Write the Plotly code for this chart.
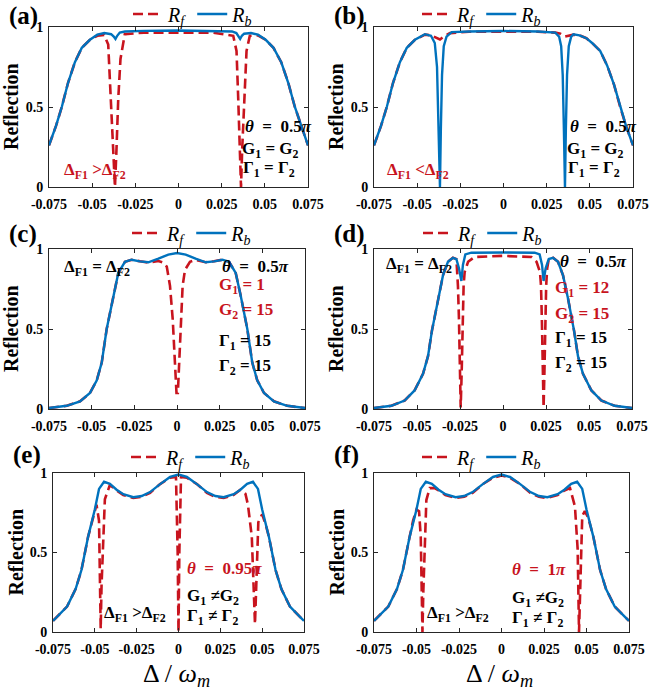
import plotly.graph_objects as go

RED = "#C8141E"
BLUE = "#0072BD"
FONT = "Liberation Serif, Times New Roman, serif"
W, H = 650, 692

x_ticks = [-0.075, -0.05, -0.025, 0, 0.025, 0.05, 0.075]
x_tick_text = ["-0.075", "-0.05", "-0.025", "0", "0.025", "0.05", "0.075"]
y_ticks = [0, 0.5, 1]
y_tick_text = ["0", "0.5", "1"]

# (a)
a_x_rf = [-0.075, -0.071, -0.0676, -0.064, -0.060, -0.056, -0.0513, -0.047, -0.043, -0.0407,
          -0.0397, -0.0378, -0.0368, -0.0359, -0.0349, -0.0336, -0.0311, -0.02, 0, 0.02,
          0.0317, 0.0336, 0.0346, 0.0356, 0.0362, 0.0369, 0.0381, 0.0394, 0.0413, 0.046,
          0.0505, 0.055, 0.0595, 0.0636, 0.0674, 0.071, 0.075]
a_rf = [0.26, 0.38, 0.50, 0.65, 0.78, 0.87, 0.92, 0.945, 0.95, 0.89,
        0.66, 0.24, 0.0, 0.24, 0.55, 0.80, 0.955, 0.965, 0.966, 0.965,
        0.945, 0.85, 0.55, 0.24, 0.0, 0.24, 0.55, 0.85, 0.945, 0.948,
        0.92, 0.87, 0.78, 0.65, 0.50, 0.38, 0.26]
a_x_rb = [-0.075, -0.071, -0.0676, -0.064, -0.060, -0.056, -0.0513, -0.047, -0.043, -0.039,
          -0.0375, -0.0365, -0.0355, -0.034, -0.031, -0.02, 0, 0.02, 0.031, 0.0335,
          0.0347, 0.0357, 0.0367, 0.038, 0.042, 0.046, 0.0505, 0.055, 0.0595, 0.0636,
          0.0674, 0.071, 0.075]
a_rb = [0.26, 0.38, 0.50, 0.65, 0.78, 0.87, 0.92, 0.952, 0.962, 0.955,
        0.94, 0.925, 0.945, 0.965, 0.972, 0.976, 0.978, 0.977, 0.972, 0.962,
        0.945, 0.925, 0.945, 0.958, 0.962, 0.952, 0.92, 0.87, 0.78, 0.65,
        0.50, 0.38, 0.26]

# (b)
b_x_rf = [-0.075, -0.071, -0.0676, -0.064, -0.060, -0.056, -0.0513, -0.0455, -0.042, -0.0395,
          -0.0368, -0.034, -0.031, -0.02, 0, 0.02, 0.030, 0.033, 0.0356, 0.038,
          0.0405, 0.044, 0.048, 0.0513, 0.056, 0.060, 0.064, 0.0676, 0.071, 0.075]
b_rf = [0.26, 0.38, 0.50, 0.65, 0.78, 0.87, 0.92, 0.952, 0.948, 0.935,
        0.922, 0.945, 0.962, 0.97, 0.972, 0.97, 0.965, 0.958, 0.94, 0.945,
        0.952, 0.948, 0.93, 0.90, 0.85, 0.76, 0.64, 0.50, 0.38, 0.26]
b_x_rb = [-0.075, -0.071, -0.0676, -0.064, -0.060, -0.056, -0.0513, -0.0455, -0.042, -0.0398,
          -0.0385, -0.0377, -0.0372, -0.0368, -0.0363, -0.0356, -0.0346, -0.033, -0.030, -0.02,
          0, 0.02, 0.030, 0.0322, 0.0334, 0.0343, 0.0350, 0.0356, 0.0361, 0.0368,
          0.0378, 0.0392, 0.0405, 0.044, 0.048, 0.0513, 0.056, 0.060, 0.064, 0.0676,
          0.071, 0.075]
b_rb = [0.26, 0.38, 0.50, 0.65, 0.78, 0.87, 0.92, 0.955, 0.945, 0.90,
        0.75, 0.45, 0.2, 0.0, 0.35, 0.70, 0.88, 0.94, 0.968, 0.972,
        0.975, 0.972, 0.965, 0.94, 0.88, 0.70, 0.35, 0.0, 0.35, 0.70,
        0.88, 0.94, 0.955, 0.948, 0.93, 0.90, 0.85, 0.76, 0.64, 0.50,
        0.38, 0.26]

# (c)
c_x_rf = [-0.075, -0.0646, -0.0568, -0.051, -0.047, -0.0441, -0.0412, -0.0373, -0.0344, -0.0305,
          -0.0266, -0.0217, -0.0168, -0.0109, -0.008, -0.006, -0.0041, -0.0025, -0.0014, -0.0003,
          0.0005, 0.0014, 0.0023, 0.0033, 0.0047, 0.0076, 0.0109, 0.0168, 0.0217, 0.0266,
          0.0305, 0.0344, 0.0373, 0.0412, 0.0441, 0.047, 0.051, 0.0568, 0.0646, 0.075]
c_rf = [0.006, 0.02, 0.048, 0.10, 0.18, 0.29, 0.50, 0.71, 0.85, 0.92,
        0.933, 0.923, 0.915, 0.925, 0.915, 0.89, 0.77, 0.56, 0.31, 0.10,
        0.10, 0.31, 0.56, 0.77, 0.87, 0.92, 0.932, 0.917, 0.923, 0.933,
        0.92, 0.85, 0.71, 0.50, 0.29, 0.18, 0.10, 0.048, 0.02, 0.006]
c_x_rb = [-0.075, -0.0646, -0.0568, -0.051, -0.047, -0.0441, -0.0412, -0.0373, -0.0344, -0.0305,
          -0.0266, -0.0217, -0.0168, -0.0109, -0.0051, 0, 0.0051, 0.0109, 0.0168, 0.0217,
          0.0266, 0.0305, 0.0344, 0.0373, 0.0412, 0.0441, 0.047, 0.051, 0.0568, 0.0646,
          0.075]
c_rb = [0.006, 0.02, 0.048, 0.10, 0.18, 0.29, 0.50, 0.71, 0.85, 0.92,
        0.933, 0.923, 0.917, 0.94, 0.965, 0.975, 0.965, 0.94, 0.917, 0.923,
        0.933, 0.92, 0.85, 0.71, 0.50, 0.29, 0.18, 0.10, 0.048, 0.02,
        0.006]

# (d)
d_x_rf = [-0.075, -0.0649, -0.0572, -0.0514, -0.0465, -0.0436, -0.0413, -0.0378, -0.0349, -0.032,
          -0.0291, -0.0271, -0.0262, -0.0256, -0.025, -0.0246, -0.024, -0.0234, -0.0229, -0.0223,
          -0.0203, -0.0165, 0, 0.0165, 0.0195, 0.0215, 0.0221, 0.0226, 0.0231, 0.0236,
          0.0241, 0.0246, 0.0251, 0.0257, 0.0266, 0.0291, 0.032, 0.0349, 0.0378, 0.0413,
          0.0436, 0.0465, 0.0514, 0.0572, 0.0649, 0.075]
d_rf = [0.006, 0.02, 0.053, 0.116, 0.22, 0.33, 0.49, 0.69, 0.835, 0.92,
        0.945, 0.937, 0.77, 0.56, 0.24, 0.01, 0.24, 0.56, 0.77, 0.856,
        0.92, 0.95, 0.957, 0.95, 0.92, 0.856, 0.77, 0.56, 0.24, 0.01,
        0.24, 0.56, 0.77, 0.88, 0.937, 0.945, 0.92, 0.835, 0.69, 0.49,
        0.33, 0.22, 0.116, 0.053, 0.02, 0.006]
d_x_rb = [-0.075, -0.0649, -0.0572, -0.0514, -0.0465, -0.0436, -0.0413, -0.0378, -0.0349, -0.032,
          -0.0291, -0.0271, -0.0256, -0.0242, -0.0233, -0.0219, -0.0184, 0, 0.0184, 0.0213,
          0.0227, 0.0236, 0.0248, 0.0266, 0.0291, 0.032, 0.0349, 0.0378, 0.0413, 0.0436,
          0.0465, 0.0514, 0.0572, 0.0649, 0.075]
d_rb = [0.006, 0.02, 0.053, 0.116, 0.22, 0.33, 0.49, 0.69, 0.835, 0.92,
        0.945, 0.937, 0.88, 0.80, 0.90, 0.966, 0.977, 0.978, 0.977, 0.966,
        0.90, 0.80, 0.88, 0.937, 0.945, 0.92, 0.835, 0.69, 0.49, 0.33,
        0.22, 0.116, 0.053, 0.02, 0.006]

# (e)
e_x_rf = [-0.075, -0.0726, -0.0666, -0.0615, -0.058, -0.054, -0.050, -0.049, -0.0475, -0.0468,
          -0.0465, -0.046, -0.045, -0.044, -0.041, -0.037, -0.033, -0.027, -0.022, -0.017,
          -0.011, -0.005, -0.0015, -0.0005, 0, 0.0005, 0.0015, 0.005, 0.011, 0.017,
          0.022, 0.027, 0.033, 0.037, 0.040, 0.0415, 0.0438, 0.0447, 0.0457, 0.0465,
          0.0472, 0.0477, 0.050, 0.052, 0.054, 0.058, 0.0615, 0.0666, 0.0726, 0.075]
e_rf = [0.07, 0.095, 0.16, 0.27, 0.39, 0.60, 0.77, 0.80, 0.70, 0.35,
        0.02, 0.29, 0.60, 0.835, 0.925, 0.89, 0.862, 0.843, 0.85, 0.875,
        0.93, 0.97, 0.975, 0.5, 0.0, 0.5, 0.975, 0.97, 0.93, 0.875,
        0.85, 0.843, 0.862, 0.895, 0.87, 0.80, 0.60, 0.35, 0.05, 0.30,
        0.60, 0.69, 0.74, 0.68, 0.60, 0.39, 0.27, 0.16, 0.095, 0.07]

# (f)
f_x_rf = [-0.075, -0.0726, -0.0666, -0.0615, -0.058, -0.054, -0.052, -0.050, -0.0485, -0.0475,
          -0.047, -0.0465, -0.046, -0.0452, -0.0442, -0.0422, -0.0393, -0.037, -0.033, -0.027,
          -0.022, -0.017, -0.011, -0.005, 0, 0.005, 0.011, 0.017, 0.022, 0.027,
          0.033, 0.037, 0.0403, 0.0432, 0.0448, 0.0456, 0.0461, 0.0467, 0.0475, 0.049,
          0.051, 0.054, 0.058, 0.0615, 0.0666, 0.0726, 0.075]
f_rf = [0.07, 0.095, 0.16, 0.27, 0.39, 0.60, 0.70, 0.77, 0.76, 0.60,
        0.30, 0.0, 0.25, 0.52, 0.83, 0.905, 0.905, 0.89, 0.862, 0.843,
        0.85, 0.875, 0.93, 0.97, 0.985, 0.97, 0.93, 0.875, 0.85, 0.843,
        0.862, 0.89, 0.905, 0.79, 0.52, 0.0, 0.2, 0.52, 0.73, 0.76,
        0.72, 0.60, 0.39, 0.27, 0.16, 0.095, 0.07]

# (e) and (f) share the same backward curve
ef_x_rb = [-0.075, -0.0726, -0.0666, -0.0615, -0.058, -0.054, -0.050, -0.0475, -0.0445, -0.041,
           -0.037, -0.033, -0.027, -0.022, -0.017, -0.011, -0.005, 0, 0.005, 0.011,
           0.017, 0.022, 0.027, 0.033, 0.037, 0.041, 0.0445, 0.0475, 0.050, 0.054,
           0.058, 0.0615, 0.0666, 0.0726, 0.075]
ef_rb = [0.07, 0.095, 0.16, 0.27, 0.39, 0.60, 0.77, 0.90, 0.945, 0.932,
         0.895, 0.867, 0.848, 0.855, 0.88, 0.93, 0.975, 0.99, 0.975, 0.93,
         0.88, 0.855, 0.848, 0.867, 0.895, 0.932, 0.945, 0.90, 0.77, 0.60,
         0.39, 0.27, 0.16, 0.095, 0.07]

SP = "\u2002"
theta05 = f"<i>θ</i>{SP}={SP}0.5<i>π</i>"
g_eq = "G<sub>1</sub> = G<sub>2</sub>"
gam_eq = "Γ<sub>1</sub> = Γ<sub>2</sub>"
d_eq = "Δ<sub>F1</sub> = Δ<sub>F2</sub>"
d_gt = "Δ<sub>F1</sub> >Δ<sub>F2</sub>"
d_lt = "Δ<sub>F1</sub> <Δ<sub>F2</sub>"
g_ne = "G<sub>1</sub> ≠G<sub>2</sub>"
gam_ne = "Γ<sub>1</sub> ≠ Γ<sub>2</sub>"

# panel pixel boxes: left, right, top, bottom; legend centre (x, y); tag centre y
panels = [
    dict(tag="(a)", box=(49, 308, 27, 187), leg=(193, 14), tag_y=16,
         rf=(a_x_rf, a_rf), rb=(a_x_rb, a_rb),
         notes=[(theta05, 0.0373, 0.38, "black"), (g_eq, 0.0356, 0.23, "black"),
                (gam_eq, 0.0362, 0.115, "black"), (d_gt, -0.0675, 0.10, RED)]),
    dict(tag="(b)", box=(374, 633, 27, 187), leg=(482, 14), tag_y=16,
         rf=(b_x_rf, b_rf), rb=(b_x_rb, b_rb),
         notes=[(theta05, 0.0373, 0.38, "black"), (g_eq, 0.0356, 0.23, "black"),
                (gam_eq, 0.0362, 0.115, "black"), (d_lt, -0.0686, 0.10, RED)]),
    dict(tag="(c)", box=(49, 305, 249, 409), leg=(192, 233), tag_y=234,
         rf=(c_x_rf, c_rf), rb=(c_x_rb, c_rb),
         notes=[(d_eq, -0.0676, 0.88, "black"), (theta05, 0.0252, 0.89, "black"),
                ("G<sub>1</sub> = 1", 0.0232, 0.77, RED), ("G<sub>2</sub> = 15", 0.0232, 0.61, RED),
                ("Γ<sub>1</sub> = 15", 0.0232, 0.42, "black"), ("Γ<sub>2</sub> = 15", 0.0232, 0.26, "black")]),
    dict(tag="(d)", box=(374, 632, 249, 409), leg=(483, 233), tag_y=234,
         rf=(d_x_rf, d_rf), rb=(d_x_rb, d_rb),
         notes=[(d_eq, -0.0692, 0.90, "black"), (theta05, 0.032, 0.92, "black"),
                ("G<sub>1</sub> = 12", 0.029, 0.75, RED), ("G<sub>2</sub> = 15", 0.029, 0.59, RED),
                ("Γ<sub>1</sub> = 15", 0.029, 0.44, "black"), ("Γ<sub>2</sub> = 15", 0.029, 0.28, "black")]),
    dict(tag="(e)", box=(53, 304, 473, 632), leg=(191, 457), tag_y=455,
         rf=(e_x_rf, e_rf), rb=(ef_x_rb, ef_rb),
         notes=[(f"<i>θ</i>{SP}={SP}0.95<i>π</i>", 0.0038, 0.40, RED),
                (g_ne, 0.0038, 0.22, "black"), (gam_ne, 0.0038, 0.095, "black"),
                (d_gt, -0.046, 0.115, "black")]),
    dict(tag="(f)", box=(374, 629, 473, 632), leg=(482, 457), tag_y=455,
         rf=(f_x_rf, f_rf), rb=(ef_x_rb, ef_rb),
         notes=[(f"<i>θ</i>{SP}={SP}1<i>π</i>", 0.0049, 0.39, RED),
                (g_ne, 0.0049, 0.21, "black"), (gam_ne, 0.0049, 0.08, "black"),
                (d_gt, -0.045, 0.115, "black")]),
]


def fx(px):
    return px / W


def fy(py):
    return 1 - py / H


fig = go.Figure()
annotations = []
layout = {}

for i, p in enumerate(panels, start=1):
    sfx = "" if i == 1 else str(i)
    leg = "legend" + sfx
    left, right, top, bottom = p["box"]
    axis_style = dict(
        ticks="inside", ticklen=4, showline=True, linecolor="#262626", linewidth=1,
        mirror="ticks", showgrid=False, zeroline=False, tickcolor="#262626",
        automargin=False,
        tickfont=dict(family=FONT, size=14, color="black", weight="bold"),
    )
    layout["xaxis" + sfx] = dict(
        domain=[fx(left), fx(right)], range=[-0.075, 0.075], anchor="y" + sfx,
        tickvals=x_ticks, ticktext=x_tick_text, ticklabelstandoff=4, **axis_style,
    )
    layout["yaxis" + sfx] = dict(
        domain=[fy(bottom), fy(top)], range=[0, 1], anchor="x" + sfx,
        tickvals=y_ticks, ticktext=y_tick_text, ticklabelstandoff=2, **axis_style,
    )

    fig.add_trace(go.Scatter(
        x=p["rf"][0], y=p["rf"][1], mode="lines", name="<i>R<sub>f</sub></i>",
        line=dict(color=RED, width=2.6, dash="10px,5px"),
        xaxis="x" + sfx, yaxis="y" + sfx, legend=leg,
    ))
    fig.add_trace(go.Scatter(
        x=p["rb"][0], y=p["rb"][1], mode="lines", name="<i>R<sub>b</sub></i>",
        line=dict(color=BLUE, width=2.4),
        xaxis="x" + sfx, yaxis="y" + sfx, legend=leg,
    ))

    cx = (left + right) / 2
    lx, ly = p["leg"]
    layout[leg] = dict(
        orientation="h", x=fx(lx), y=fy(ly),
        xanchor="center", yanchor="middle", bgcolor="rgba(0,0,0,0)",
        font=dict(family=FONT, size=20, color="black"), tracegroupgap=0,
    )

    # panel tag
    annotations.append(dict(
        text=p["tag"], x=fx(left - 42), y=fy(p["tag_y"]), xref="paper", yref="paper",
        xanchor="left", yanchor="middle", showarrow=False,
        font=dict(family=FONT, size=25, color="black", weight="bold"),
    ))
    # y title
    annotations.append(dict(
        text="Reflection", x=fx(left - 38), y=fy((top + bottom) / 2),
        xref="paper", yref="paper", textangle=-90, showarrow=False,
        xanchor="center", yanchor="middle",
        font=dict(family=FONT, size=20, color="black", weight="bold"),
    ))
    for text, nx, ny, col in p["notes"]:
        annotations.append(dict(
            text=text, x=nx, y=ny, xref="x" + sfx, yref="y" + sfx,
            xanchor="left", yanchor="middle", showarrow=False,
            font=dict(family=FONT, size=17, color=col, weight="bold"),
        ))
    if i >= 5:
        annotations.append(dict(
            text="Δ / <i>ω<sub>m</sub></i>", x=fx(cx - 2), y=fy(675),
            xref="paper", yref="paper", showarrow=False,
            xanchor="center", yanchor="middle",
            font=dict(family=FONT, size=26, color="black"),
        ))

fig.update_layout(
    width=W, height=H, margin=dict(l=0, r=0, t=0, b=0, autoexpand=False),
    paper_bgcolor="white", plot_bgcolor="white",
    annotations=annotations, **layout,
)

# drop the page's default body margin so the figure sits at the window origin
fig.write_html(
    "out.html",
    config={"displayModeBar": False},
    post_script="document.body.style.margin = '0';",
)
